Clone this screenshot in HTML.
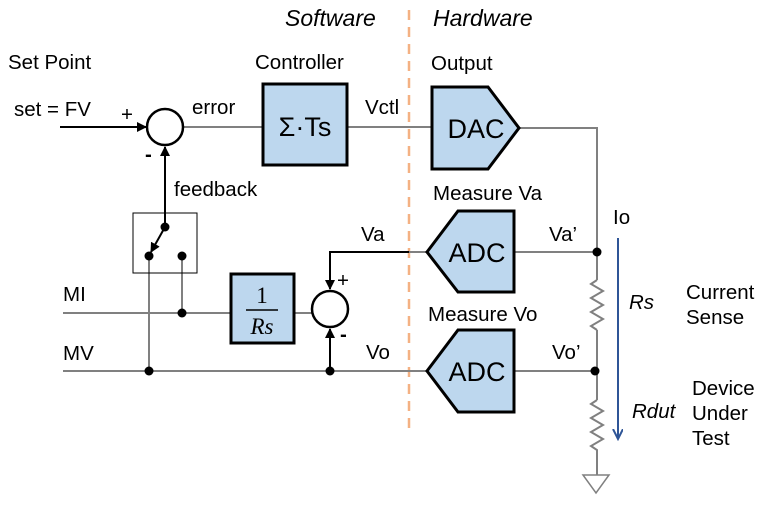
<!DOCTYPE html>
<html><head><style>body{margin:0;background:#fff}</style></head><body>
<svg width="782" height="516" xmlns="http://www.w3.org/2000/svg" font-family="Liberation Sans, sans-serif" font-size="20.5">
<defs>
<marker id="a" markerWidth="12" markerHeight="12" refX="9" refY="5" orient="auto" markerUnits="userSpaceOnUse"><path d="M0,0 L10,5 L0,10 z" fill="#000"/></marker>
<marker id="b" markerWidth="12" markerHeight="12" refX="9" refY="5" orient="auto" markerUnits="userSpaceOnUse"><path d="M0,0 L10,5 L0,10" fill="none" stroke="#2f5597" stroke-width="2"/></marker>
</defs>
<line x1="409" y1="10" x2="409" y2="435" stroke="#f4b183" stroke-width="2.5" stroke-dasharray="10,7"/>
<text x="285" y="26" font-style="italic" font-size="23">Software</text>
<text x="433" y="26" font-style="italic" font-size="23">Hardware</text>
<g stroke="#808080" stroke-width="2" fill="none">
<line x1="183" y1="127" x2="263" y2="127"/>
<line x1="347" y1="127" x2="432" y2="127"/>
<polyline points="519,128 597,128 597,280"/>
<line x1="514" y1="252" x2="597" y2="252"/>
<line x1="597" y1="330" x2="597" y2="400"/>
<line x1="514" y1="371" x2="597" y2="371"/>
<polyline points="597,280 591,284 603,291 591,298 603,305 591,312 603,319 591,326 597,330"/>
<polyline points="597,400 591,404 603,411 591,418 603,425 591,432 603,439 591,446 597,450 597,475"/>
<polygon points="583,475 609,475 596,493" stroke-width="1.5"/>
<line x1="63" y1="313" x2="231" y2="313"/>
<line x1="294" y1="313" x2="312" y2="313"/>
<line x1="63" y1="371" x2="427" y2="371"/>
<line x1="149" y1="256" x2="149" y2="371"/>
<line x1="182" y1="256" x2="182" y2="313"/>
<line x1="409" y1="252" x2="427" y2="252"/>
</g>
<polyline points="409,252 330,252 330,289" stroke="#000" stroke-width="2" fill="none" marker-end="url(#a)"/>
<line x1="330" y1="371" x2="330" y2="329" stroke="#000" stroke-width="2" marker-end="url(#a)"/>
<line x1="60" y1="127" x2="146" y2="127" stroke="#000" stroke-width="2" marker-end="url(#a)"/>
<line x1="165" y1="227" x2="165" y2="147" stroke="#000" stroke-width="2" marker-end="url(#a)"/>
<line x1="165" y1="227" x2="151" y2="252" stroke="#000" stroke-width="2" marker-end="url(#a)"/>
<rect x="133" y="213" width="64" height="60" fill="none" stroke="#000" stroke-width="1"/>
<circle cx="165" cy="127" r="18" fill="#fff" stroke="#000" stroke-width="2.5"/>
<circle cx="330" cy="309" r="18" fill="#fff" stroke="#000" stroke-width="2.5"/>
<g fill="#000">
<circle cx="165" cy="227" r="4.5"/><circle cx="149" cy="256" r="4.5"/><circle cx="182" cy="256" r="4.5"/>
<circle cx="182" cy="313" r="4.5"/><circle cx="149" cy="371" r="4.5"/><circle cx="330" cy="371" r="4.5"/>
<circle cx="597" cy="252" r="4.5"/><circle cx="595" cy="371" r="4.5"/>
</g>
<g fill="#bdd7ee" stroke="#000" stroke-width="3">
<rect x="263" y="84" width="84" height="81"/>
<rect x="231" y="274" width="63" height="69"/>
<polygon points="432,87 488,87 519,128 488,169 432,169"/>
<polygon points="427,252 458,211 514,211 514,292 458,292"/>
<polygon points="427,371 458,330 514,330 514,412 458,412"/>
</g>
<line x1="618" y1="238" x2="618" y2="438" stroke="#2f5597" stroke-width="2" marker-end="url(#b)"/>
<text x="305" y="136" font-size="27" text-anchor="middle">Σ·Ts</text>
<text x="262" y="303" font-size="23" text-anchor="middle" font-family="Liberation Serif, serif">1</text>
<line x1="246" y1="310" x2="278" y2="310" stroke="#000" stroke-width="1.5"/>
<text x="262" y="334" font-size="23" text-anchor="middle" font-style="italic" font-family="Liberation Serif, serif">Rs</text>
<text x="476" y="138" font-size="27" text-anchor="middle">DAC</text>
<text x="477" y="262" font-size="27" text-anchor="middle">ADC</text>
<text x="477" y="381" font-size="27" text-anchor="middle">ADC</text>
<text x="8" y="69">Set Point</text>
<text x="14" y="116">set = FV</text>
<text x="121" y="121">+</text>
<text x="145" y="161" font-weight="bold">-</text>
<text x="192" y="114">error</text>
<text x="255" y="69">Controller</text>
<text x="365" y="114">Vctl</text>
<text x="431" y="70">Output</text>
<text x="174" y="196">feedback</text>
<text x="433" y="200">Measure Va</text>
<text x="361" y="241">Va</text>
<text x="549" y="241">Va’</text>
<text x="613" y="224">Io</text>
<text x="337" y="287">+</text>
<text x="340" y="341" font-weight="bold">-</text>
<text x="63" y="301">MI</text>
<text x="63" y="360">MV</text>
<text x="428" y="321">Measure Vo</text>
<text x="366" y="359">Vo</text>
<text x="552" y="359">Vo’</text>
<text x="629" y="309" font-style="italic">Rs</text>
<text x="686" y="299">Current</text>
<text x="686" y="324">Sense</text>
<text x="632" y="418" font-style="italic">Rdut</text>
<text x="692" y="395">Device</text>
<text x="692" y="420">Under</text>
<text x="692" y="445">Test</text>
</svg>
</body></html>
